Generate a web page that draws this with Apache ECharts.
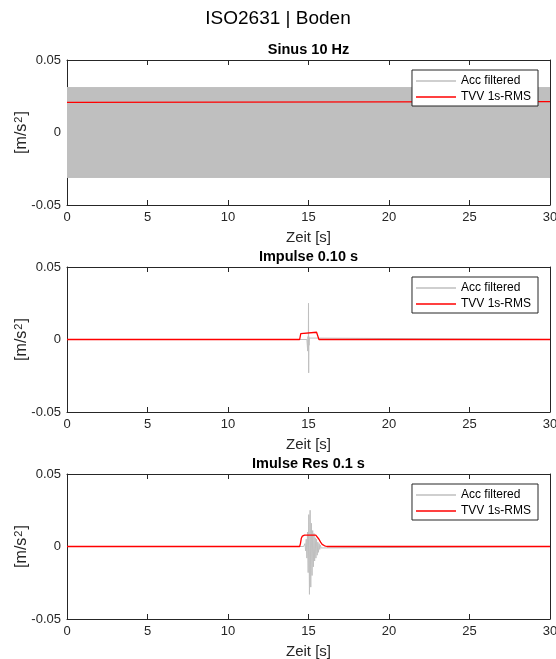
<!DOCTYPE html>
<html>
<head>
<meta charset="utf-8">
<script src="https://cdn.jsdelivr.net/npm/echarts@6/dist/echarts.min.js"></script>
<style>
  html, body { margin: 0; padding: 0; background: #fff; }
  #chart { width: 556px; height: 659px; }
</style>
</head>
<body>
<div id="chart"></div>
<script>
  // ---- data ----
  const panelTitles = ['Sinus 10 Hz', 'Impulse 0.10 s', 'Imulse Res 0.1 s'];
  const legendNames = ['Acc filtered', 'TVV 1s-RMS'];
  const xTicks = [0, 5, 10, 15, 20, 25, 30];
  const yTicks = [-0.05, 0, 0.05];

  // Sinus 10 Hz: the dense sine shows as a solid band, kept as its envelope
  const sinT = [0, 30];
  const sinAccTop = [0.031, 0.031];
  const sinAccBot = [-0.031, -0.031];
  const sinTvvT = [0, 0.45, 0.5, 30];
  const sinTvv = [0.0208, 0.0208, 0.0213, 0.0213];

  // Impulse 0.10 s
  const impAccT = [0, 14.9, 14.93, 14.95, 14.97, 14.99, 15.0, 15.01, 15.02, 15.03, 15.05, 15.08, 30];
  const impAcc = [0, 0, 0.001, -0.008, 0.002, -0.006, 0.025, -0.023, 0.002, -0.004, 0.001, 0, 0];
  const impTvvT = [0, 14.45, 14.52, 14.6, 15.5, 15.56, 15.65, 30];
  const impTvv = [0, 0, 0.004, 0.005, 0.005, 0.004, 0, 0];

  // Imulse Res 0.1 s
  const resAccT = [0, 14.7, 14.74, 14.78, 14.82, 14.86, 14.9, 14.94, 14.98, 15.02, 15.06, 15.1,
    15.14, 15.18, 15.22, 15.26, 15.3, 15.34, 15.38, 15.42, 15.46, 15.5, 15.54, 15.58,
    15.62, 15.66, 15.7, 15.74, 15.78, 15.82, 30];
  const resAcc = [0, 0, -0.001, 0.002, -0.003, 0.005, -0.008, 0.01, -0.018, 0.022, -0.033, 0.025,
    -0.028, 0.016, -0.02, 0.011, -0.014, 0.009, -0.01, 0.006, -0.008, 0.005, -0.006, 0.003,
    -0.004, 0.002, -0.002, 0.001, -0.001, 0, 0];
  const resTvvT = [0, 14.45, 14.5, 14.55, 14.62, 14.75, 15.45, 15.55, 15.65, 15.75, 15.85, 16.0, 16.15, 30];
  const resTvv = [0, 0, 0.002, 0.0055, 0.0072, 0.0078, 0.0078, 0.0072, 0.005, 0.003, 0.0015, 0.0005, 0, 0];

  // ---- layout ----
  const gridLeft = 67, gridRight = 6;
  const gridTops = [60, 267, 474];
  const gridH = 145;
  const axisColor = '#262626';
  const accColor = '#bfbfbf';
  const tvvColor = '#ff0000';
  const font = "'Liberation Sans', Arial, Helvetica, sans-serif";
  const lineIcon = 'path://M0,0H40V1.3H0Z';

  function zip(t, v) {
    return t.map((x, i) => [x, v[i]]);
  }

  let grid = [], xAxis = [], yAxis = [], title = [], legend = [], series = [];

  title.push({
    text: 'ISO2631 | Boden',
    left: 'center',
    top: 9,
    padding: 0,
    textStyle: { fontFamily: font, fontSize: 19, fontWeight: 'normal', color: '#000' }
  });

  gridTops.forEach((top, g) => {
    grid.push({ left: gridLeft, right: gridRight, top: top, height: gridH, containLabel: false, outerBoundsMode: 'none' });

    // subplot title centred over its axes
    title.push({
      text: panelTitles[g],
      left: gridLeft + (556 - gridLeft - gridRight) / 2,
      textAlign: 'center',
      top: top - 18,
      padding: 0,
      textStyle: { fontFamily: font, fontSize: 14.5, fontWeight: 'bold', color: '#000' }
    });

    // bottom + top x axis (box with inward ticks)
    let xBase = {
      gridIndex: g,
      type: 'value',
      min: xTicks[0],
      max: xTicks[xTicks.length - 1],
      interval: xTicks[1] - xTicks[0],
      axisLine: { show: true, onZero: false, lineStyle: { color: axisColor, width: 1 } },
      axisTick: { show: true, inside: true, length: 5, lineStyle: { color: axisColor } },
      splitLine: { show: false }
    };
    xAxis.push(Object.assign({}, xBase, {
      position: 'bottom',
      name: 'Zeit [s]',
      nameLocation: 'middle',
      nameGap: 25,
      nameMoveOverlap: false,
      nameTextStyle: { fontFamily: font, fontSize: 15, color: axisColor },
      axisLabel: { fontFamily: font, fontSize: 13, color: axisColor, margin: 6 }
    }));
    xAxis.push(Object.assign({}, xBase, {
      position: 'top',
      axisLabel: { show: false }
    }));

    let yBase = {
      gridIndex: g,
      type: 'value',
      min: yTicks[0],
      max: yTicks[yTicks.length - 1],
      interval: yTicks[1] - yTicks[0],
      axisLine: { show: true, onZero: false, lineStyle: { color: axisColor, width: 1 } },
      axisTick: { show: true, inside: true, length: 5, lineStyle: { color: axisColor } },
      splitLine: { show: false }
    };
    yAxis.push(Object.assign({}, yBase, {
      position: 'left',
      name: '[m/s{sup|2}]',
      nameLocation: 'middle',
      nameRotate: 90,
      nameGap: 36,
      nameMoveOverlap: false,
      nameTextStyle: {
        fontFamily: font, fontSize: 16, color: axisColor,
        rich: { sup: { fontFamily: font, fontSize: 11, color: axisColor, verticalAlign: 'top', padding: [0, 1, 7, 1] } }
      },
      axisLabel: {
        fontFamily: font, fontSize: 13, color: axisColor, margin: 6,
        formatter: v => (Math.abs(v) < 1e-9 ? '0' : v.toFixed(2))
      }
    }));
    yAxis.push(Object.assign({}, yBase, {
      position: 'right',
      axisLabel: { show: false }
    }));

    legend.push({
      data: legendNames.map(n => ({ name: n, icon: lineIcon })),
      orient: 'vertical',
      right: 18,
      top: top + 10,
      padding: [5, 7, 3, 4],
      itemWidth: 40,
      itemHeight: 12,
      itemGap: 4,
      borderColor: axisColor,
      borderWidth: 1,
      borderRadius: 0,
      backgroundColor: '#fff',
      textStyle: { fontFamily: font, fontSize: 12, color: '#000' }
    });
  });

  function line(g, name, data, color, width, origin) {
    let s = {
      name: name,
      type: 'line',
      xAxisIndex: g * 2,
      yAxisIndex: g * 2,
      data: data,
      showSymbol: false,
      symbol: 'none',
      animation: false,
      silent: true,
      lineStyle: { color: color, width: width },
      itemStyle: { color: color }
    };
    if (origin !== undefined) s.areaStyle = { color: color, opacity: 1, origin: origin };
    return s;
  }

  // panel 1: band filled from the upper to the lower envelope
  series.push(line(0, 'Acc filtered', zip(sinT, sinAccTop), accColor, 1, sinAccBot[0]));
  series.push(line(0, 'Acc filtered', zip(sinT, sinAccBot), accColor, 1));
  series.push(line(0, 'TVV 1s-RMS', zip(sinTvvT, sinTvv), tvvColor, 1.3));
  // panel 2
  series.push(line(1, 'Acc filtered', zip(impAccT, impAcc), accColor, 1));
  series.push(line(1, 'TVV 1s-RMS', zip(impTvvT, impTvv), tvvColor, 1.3));
  // panel 3
  series.push(line(2, 'Acc filtered', zip(resAccT, resAcc), accColor, 1));
  series.push(line(2, 'TVV 1s-RMS', zip(resTvvT, resTvv), tvvColor, 1.3));

  let chart = echarts.init(document.getElementById('chart'));
  chart.setOption({
    backgroundColor: '#fff',
    animation: false,
    title,
    legend,
    grid,
    xAxis,
    yAxis,
    series
  });
</script>
</body>
</html>
